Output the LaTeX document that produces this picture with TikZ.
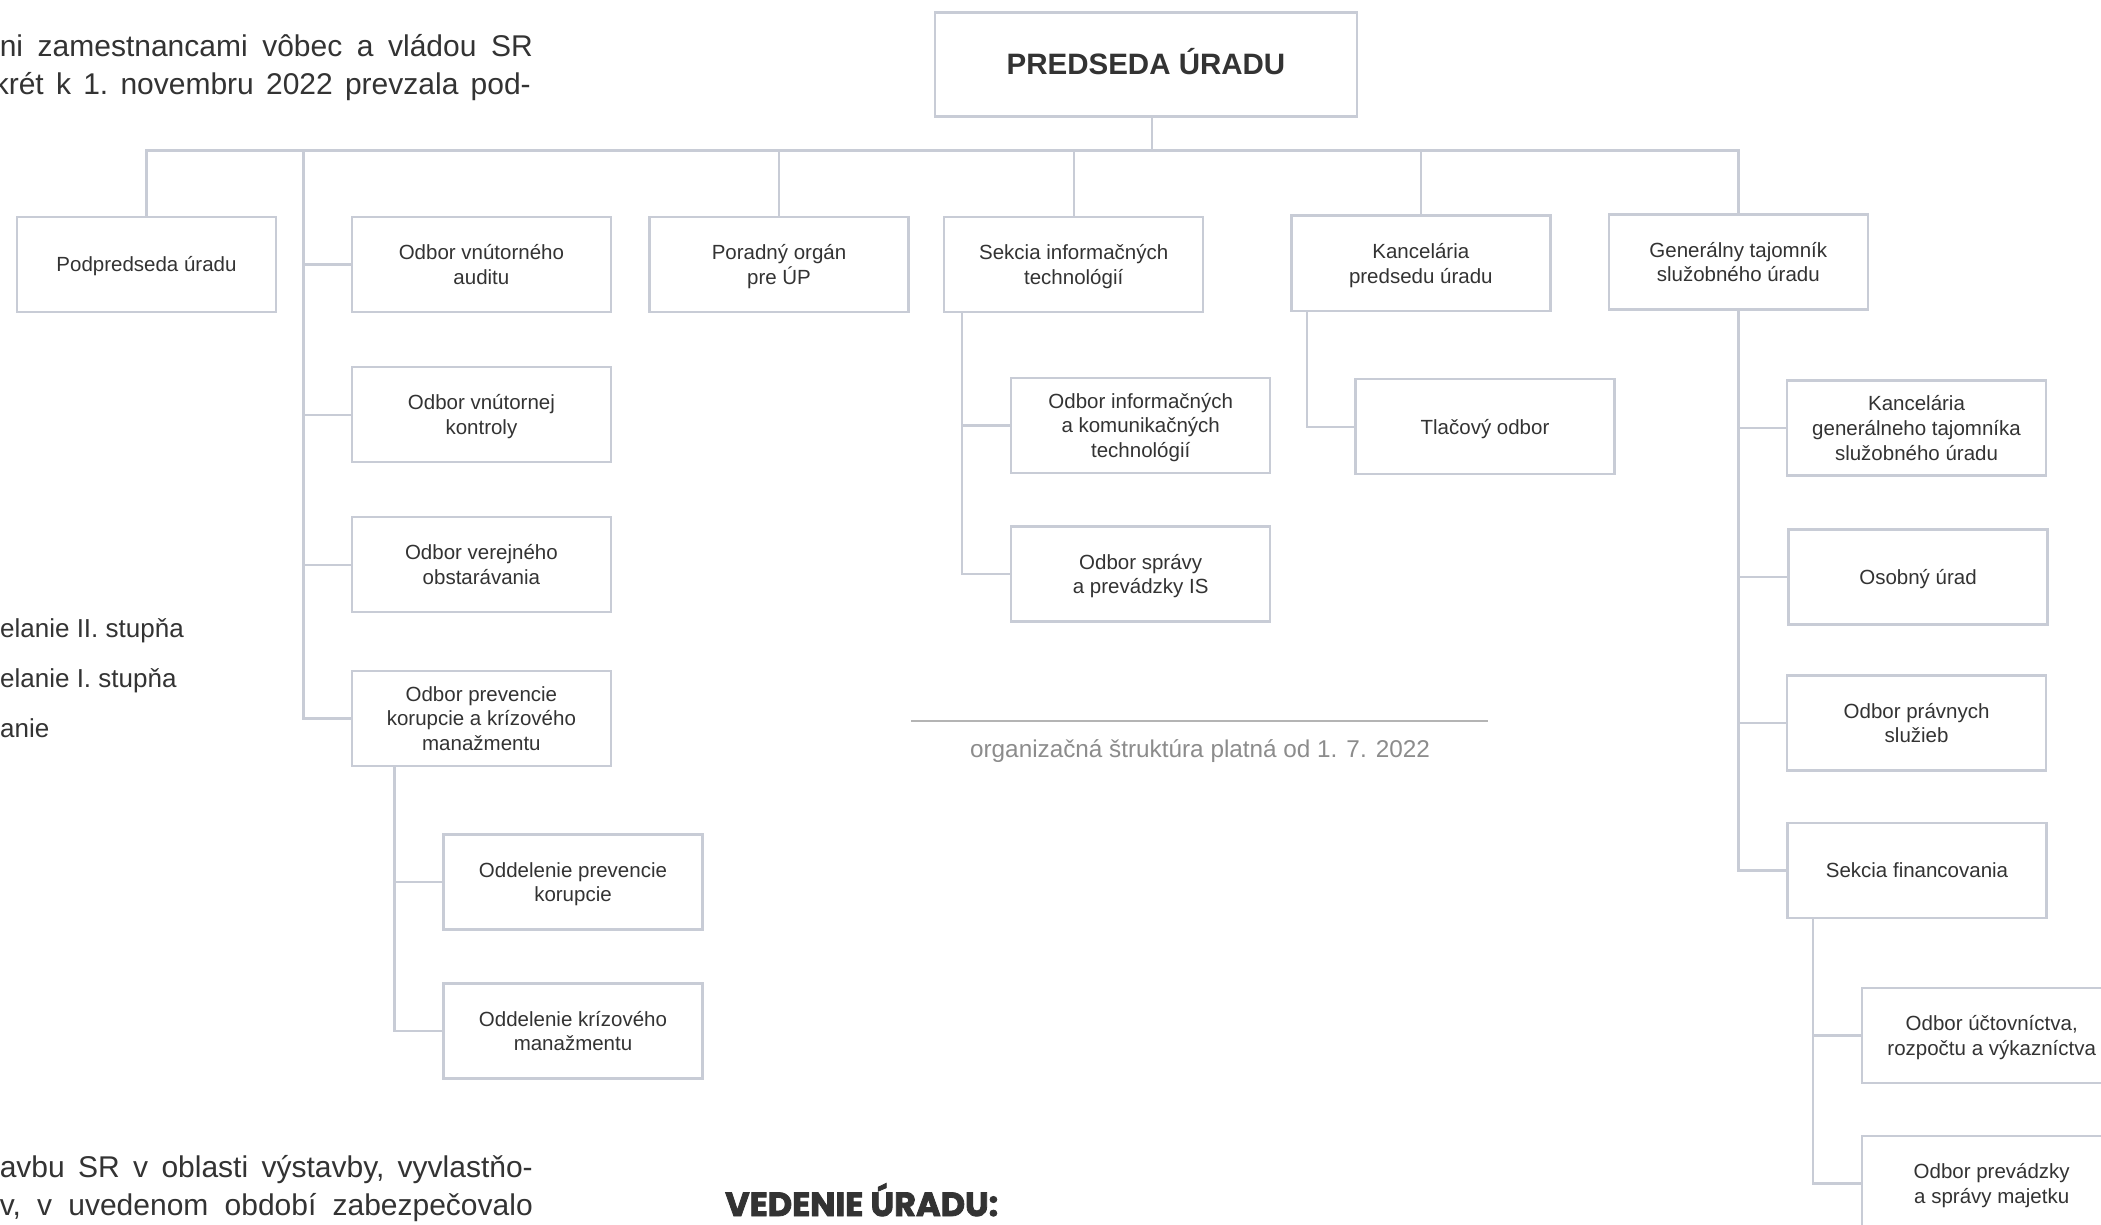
\documentclass[tikz,border=0pt]{standalone}
\usepackage{fontspec}
\setmainfont{Liberation Sans}
\newfontfamily\heavyfont[FakeBold=2.5]{Poppins}
\definecolor{linec}{HTML}{C8CCD6}
\definecolor{txt}{HTML}{333333}
\definecolor{capgray}{HTML}{8C8C8C}
\definecolor{sepgray}{HTML}{B4B4B4}
\newcommand\bt[1]{\raisebox{-2.5pt}[\height][\depth]{\begin{tabular}{@{}c@{}}#1\end{tabular}}}
\tikzset{
 orgbox/.style={draw=linec, line width=2.4pt, minimum width=259pt, minimum height=95pt, inner sep=0pt, align=center, text=txt, font=\fontsize{20.5}{24.8}\selectfont},
 conn/.style={draw=linec, line width=2.4pt},
 sidetext/.style={inner sep=0pt, text=txt, font=\fontsize{26}{30}\selectfont},
 bodytext/.style={inner sep=0pt, text=txt, font=\frenchspacing\fontsize{30}{40}\selectfont},
}
\begin{document}
\begin{tikzpicture}[x=1pt,y=-1pt]
\useasboundingbox (0,0) rectangle (2101,1225);
\fill[white] (0,0) rectangle (2101,1225);
\clip (0,0) rectangle (2101,1225);

% side text fragments
\node[bodytext, anchor=base east] (t1) at (533,57) {\makebox[533pt][s]{ni zamestnancami vôbec a vládou SR}};
\node[bodytext, anchor=base east] (t2) at (531,95) {\makebox[537pt][s]{krét k 1. novembru 2022 prevzala pod-}};
\node[sidetext, anchor=base west] (t3) at (0,637) {elanie II. stupňa};
\node[sidetext, anchor=base west] (t4) at (0,687) {elanie I. stupňa};
\node[sidetext, anchor=base west] (t5) at (0,737) {anie};
\node[bodytext, anchor=base east] (t6) at (533,1177) {\makebox[533pt][s]{avbu SR v oblasti výstavby, vyvlastňo-}};
\node[bodytext, anchor=base east] (t7) at (533,1215) {\makebox[533pt][s]{v, v uvedenom období zabezpečovalo}};
\node[anchor=base west, inner sep=0pt, text=txt, font=\heavyfont\bfseries\fontsize{33.5}{38}\selectfont] (ved) at (725,1216) {VEDENIE ÚRADU:};

% boxes
\node[orgbox, minimum width=422pt, minimum height=104pt, font=\bfseries\fontsize{29.5}{34}\selectfont] (pred) at (1146,64.7) {\raisebox{3pt}[\height][\depth]{PREDSEDA ÚRADU}};
\node[orgbox] (podp) at (146.5,264.5) {\bt{Podpredseda úradu}};
\node[orgbox] (audit) at (481.4,264.5) {\bt{Odbor vnútorného\\auditu}};
\node[orgbox] (poradny) at (779,264.5) {\bt{Poradný orgán\\pre ÚP}};
\node[orgbox] (sit) at (1073.7,264.5) {\bt{Sekcia informačných\\technológií}};
\node[orgbox] (kanc) at (1420.8,263.2) {\bt{Kancelária\\predsedu úradu}};
\node[orgbox] (gen) at (1738.3,262) {\bt{Generálny tajomník\\služobného úradu}};
\node[orgbox] (kontr) at (481.4,414.7) {\bt{Odbor vnútornej\\kontroly}};
\node[orgbox] (obst) at (481.4,564.7) {\bt{Odbor verejného\\obstarávania}};
\node[orgbox] (prev) at (481.4,718.5) {\bt{Odbor prevencie\\korupcie a krízového\\manažmentu}};
\node[orgbox] (oddprev) at (573,882) {\bt{Oddelenie prevencie\\korupcie}};
\node[orgbox] (oddkriz) at (573,1031) {\bt{Oddelenie krízového\\manažmentu}};
\node[orgbox] (ikt) at (1140.7,425.4) {\bt{Odbor informačných\\a komunikačných\\technológií}};
\node[orgbox] (spr) at (1140.7,574.1) {\bt{Odbor správy\\a prevádzky IS}};
\node[orgbox] (tlac) at (1485,426.7) {\bt{Tlačový odbor}};
\node[orgbox] (kancgt) at (1916.5,428) {\bt{Kancelária\\generálneho tajomníka\\služobného úradu}};
\node[orgbox] (osob) at (1918,577) {\bt{Osobný úrad}};
\node[orgbox] (prav) at (1916.6,723) {\bt{Odbor právnych\\služieb}};
\node[orgbox] (fin) at (1917,870.5) {\bt{Sekcia financovania}};
\node[orgbox] (uct) at (1991.7,1035.5) {\bt{Odbor účtovníctva,\\rozpočtu a výkazníctva}};
\node[orgbox] (prevadz) at (1991.7,1183.5) {\bt{Odbor prevádzky\\a správy majetku}};

% connectors
\coordinate (pj) at (1152,150.7);
\draw[conn] (pj |- pred.south) -- (pj);
\draw[conn] (podp.north) -- (podp.north |- pj) -- (gen.north |- pj) -- (gen.north);
\foreach \n in {poradny,sit,kanc} \draw[conn] (\n.north |- pj) -- (\n.north);
\coordinate (lsp) at (303.6,150.7);
\draw[conn] (lsp) |- (prev.west);
\foreach \n in {audit,kontr,obst} \draw[conn] (lsp |- \n.west) -- (\n.west);
\coordinate (psp) at (394.6,0);
\draw[conn] (psp |- prev.south) |- (oddkriz.west);
\draw[conn] (psp |- oddprev.west) -- (oddprev.west);
\coordinate (itsp) at (962,0);
\draw[conn] (itsp |- sit.south) |- (spr.west);
\draw[conn] (itsp |- ikt.west) -- (ikt.west);
\coordinate (kasp) at (1307,0);
\draw[conn] (kasp |- kanc.south) |- (tlac.west);
\draw[conn] (gen.south) |- (fin.west);
\foreach \n in {kancgt,osob,prav} \draw[conn] (gen.south |- \n.west) -- (\n.west);
\coordinate (fsp) at (1813,0);
\draw[conn] (fsp |- fin.south) |- (prevadz.west);
\draw[conn] (fsp |- uct.west) -- (uct.west);

% caption
\draw[sepgray, line width=1.6pt] (911,721) -- (1488,721);
\node[anchor=base, inner sep=0pt, text=capgray, font=\fontsize{24.3}{28}\selectfont] (cap) at (1200,757) {organizačná štruktúra platná od 1. 7. 2022};
\end{tikzpicture}
\end{document}
